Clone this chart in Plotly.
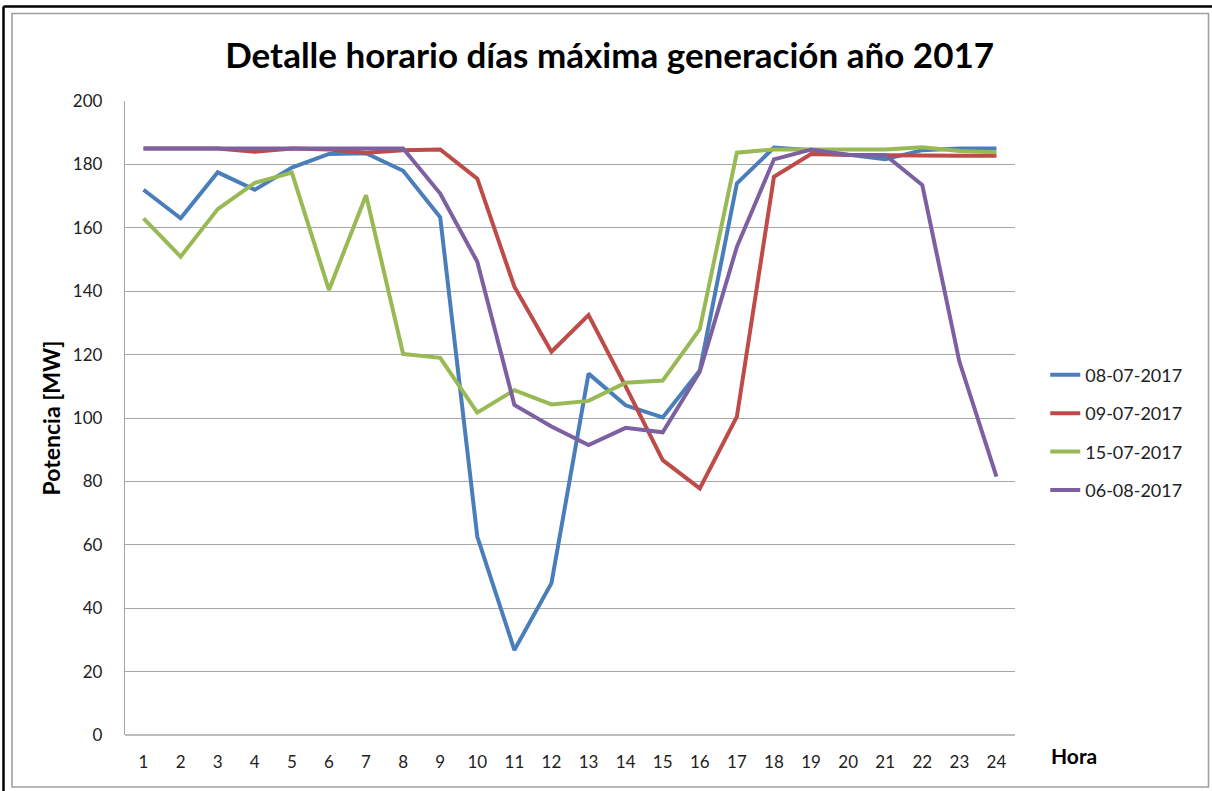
import plotly.graph_objects as go

hours = list(range(1, 25))
hour_labels = [str(h) for h in hours]

s_0807 = [172, 163, 177.5, 172, 179, 183.3, 183.5, 178, 163.3, 62.6, 26.8, 47.9,
          114, 104, 100.2, 115, 174, 185.3, 184.5, 183, 181.6, 184.5, 185, 185]
s_0907 = [185, 185, 185, 184, 185, 184.7, 183.7, 184.5, 184.7, 175.5, 141.4, 120.9,
          132.5, 110, 86.7, 77.8, 100.4, 176.1, 183.3, 183, 182.8, 182.7, 182.7, 182.7]
s_1507 = [163, 150.9, 165.9, 174.2, 177.4, 140.4, 170.3, 120.2, 119, 101.7, 108.8, 104.3,
          105.4, 111.1, 111.8, 128, 183.7, 184.7, 184.7, 184.7, 184.7, 185.4, 184.2, 183.8]
s_0608 = [185, 185, 185, 185, 185, 185, 185, 185, 170.8, 149.3, 104.1, 97.3,
          91.5, 96.9, 95.5, 114.6, 154, 181.6, 184.7, 183, 183, 173.5, 117.8, 81.5]

series_names = ["08-07-2017", "09-07-2017", "15-07-2017", "06-08-2017"]
series_values = [s_0807, s_0907, s_1507, s_0608]
series_colors = ["#4A7EBB", "#BE4B48", "#98B954", "#7D60A0"]

y_ticks = list(range(0, 201, 20))

FONT = "Lato, 'Open Sans', 'DejaVu Sans', sans-serif"

fig = go.Figure()
for name, vals, col in zip(series_names, series_values, series_colors):
    fig.add_trace(go.Scatter(
        x=hours, y=vals, mode="lines", name=name,
        legendgroup=name,
        line=dict(color=col, width=4),
    ))

fig.update_layout(
    width=1212, height=791,
    paper_bgcolor="white", plot_bgcolor="white",
    margin=dict(l=125, r=197, t=101, b=56),
    font=dict(family=FONT, size=17, color="#222222"),
    title=dict(
        text="<b>Detalle horario días máxima generación año 2017</b>",
        x=0.503, xanchor="center", y=0.930, yanchor="middle",
        font=dict(family=FONT, size=35, color="black"),
    ),
    showlegend=True,
    legend=dict(
        x=1.034, xanchor="left", y=0.477, yanchor="middle",
        font=dict(family=FONT, size=18, color="#222222"),
        tracegroupgap=12,
        bgcolor="rgba(0,0,0,0)",
    ),
    xaxis=dict(
        range=[0.5, 24.5], tickmode="array", tickvals=hours, ticktext=hour_labels,
        showgrid=False, zeroline=False, showline=False,
        ticks="", ticklabelstandoff=15,
        tickfont=dict(family=FONT, size=17, color="#222222"),
    ),
    yaxis=dict(
        range=[0, 200], tickmode="array", tickvals=y_ticks,
        showgrid=True, gridcolor="#A6A6A6", gridwidth=1.3,
        zeroline=False, showline=True, linecolor="#A6A6A6", linewidth=1.3,
        ticks="", ticklabelstandoff=18,
        tickfont=dict(family=FONT, size=17, color="#222222"),
        title=dict(text="<b>Potencia [MW]</b>", standoff=5,
                   font=dict(family=FONT, size=23, color="black")),
    ),
    annotations=[dict(
        text="<b>Hora</b>", xref="paper", yref="paper",
        x=(1074 - 125) / 890, y=(735 - 755) / 634,
        xanchor="center", yanchor="middle", showarrow=False,
        font=dict(family=FONT, size=21, color="black"),
    )],
    shapes=[
        # outer black frame (top and left)
        dict(type="line", xref="paper", yref="paper",
             x0=(3.5 - 125) / 890, x1=(1212 - 125) / 890,
             y0=(735 - 6.5) / 634, y1=(735 - 6.5) / 634,
             line=dict(color="black", width=2.5)),
        dict(type="line", xref="paper", yref="paper",
             x0=(3.5 - 125) / 890, x1=(3.5 - 125) / 890,
             y0=(735 - 6.5) / 634, y1=(735 - 791) / 634,
             line=dict(color="black", width=2.5)),
        # inner grey chart border
        dict(type="rect", xref="paper", yref="paper",
             x0=(12 - 125) / 890, x1=(1208.5 - 125) / 890,
             y0=(735 - 787) / 634, y1=(735 - 13.5) / 634,
             line=dict(color="#A0A0A0", width=1.6)),
        # x axis baseline
        dict(type="line", xref="paper", yref="paper",
             x0=0, x1=1, y0=0, y1=0,
             line=dict(color="#A6A6A6", width=1.3)),
    ],
)

fig.write_html(
    "out.html",
    config={"displayModeBar": False},
    post_script="document.body.style.margin='0';document.body.style.overflow='hidden';",
)
